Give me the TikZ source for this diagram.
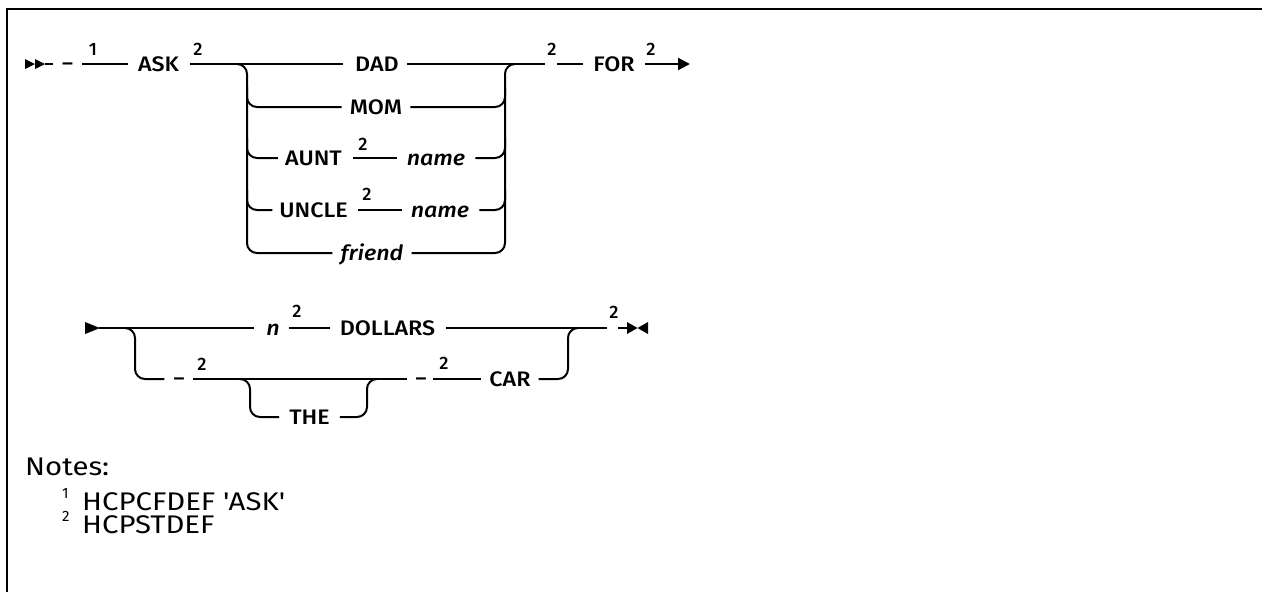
\documentclass[tikz,border=0pt]{standalone}
\usepackage{fontspec}
\setmainfont{Fira Sans}[BoldFont={Fira Sans Medium}, BoldItalicFont={Fira Sans Medium Italic}]
\newfontfamily\plainf{Fira Sans}
\usetikzlibrary{arrows.meta}
\newcommand{\sx}[1]{\scalebox{1.11}[1]{#1}}
\newcommand{\snx}[1]{\scalebox{1.15}[1]{#1}}
\begin{document}
\begin{tikzpicture}[x=1pt,y=-1pt,
  rr/.style={line width=2pt},
  kw/.style={font=\fontsize{21}{24}\selectfont\bfseries, inner sep=0pt, text height=14.5pt, text depth=0pt},
  var/.style={kw, font=\fontsize{21}{24}\selectfont\bfseries\itshape},
  dashtok/.style={kw, text height=13pt},
  fn/.style={font=\fontsize{18}{20}\selectfont\bfseries, inner sep=0pt, anchor=base},
  notetext/.style={font=\fontsize{25.5}{28}\selectfont\plainf, inner sep=0pt, anchor=base west, text height=17.5pt, text depth=0pt},
  notesup/.style={font=\fontsize{15}{17}\selectfont\plainf, inner sep=0pt, anchor=base west},
  rb/.style={rr, rounded corners=10pt}]
\useasboundingbox (0,0) rectangle (1262,592);
% frame
\draw[line width=2pt] (7,9) -- (7,592);
\draw[line width=2.6pt] (6,9) -- (1262,9);

% ---------- row 1 ----------
\coordinate (s0) at (45,64);
\fill (25,59) -- (35,64) -- (25,69) -- cycle;
\fill (35,59) -- (45,64) -- (35,69) -- cycle;
\node[dashtok] (d1) at (67.5,64) {–};
\draw[rr] (s0) -- ([xshift=-9]d1.west);
\node[fn] (f1) at (93,55) {1};
\node[kw] (ask) at (158.5,64) {\sx{ASK}};
\draw[rr] ([xshift=9]d1.east) -- ([xshift=-10]ask.west);
\node[fn] (f2) at (198,55) {2};

\node[kw] (dad) at (377,64) {\sx{DAD}};
\node[kw] (mom) at (376,107) {\sx{MOM}};
\node[kw, anchor=east] (aunt) at (342,158) {\sx{AUNT}};
\node[fn] (f5) at (363,150) {2};
\node[var] (name1) at (436,158) {\sx{name}};
\node[kw, anchor=east] (uncle) at (348,210) {\sx{UNCLE}};
\node[fn] (f6) at (367,200) {2};
\node[var] (name2) at (440,210) {\sx{name}};
\node[var] (friend) at (372,253) {\sx{friend}};

\draw[rr] ([xshift=11]ask.east) -- ([xshift=-12]dad.west);
% left bracket
\draw[rb] (237,64) -- (247,64) -- (247,253) -- ([xshift=-8]friend.west);
\draw[rb] (247,87) -- (247,107) -- ([xshift=-8]mom.west);
\draw[rb] (247,138) -- (247,158) -- ([xshift=-7]aunt.west);
\draw[rb] (247,190) -- (247,210) -- ([xshift=-7]uncle.west);
\draw[rr] ([xshift=11]aunt.east) -- ([xshift=-10]name1.west);
\draw[rr] ([xshift=10]uncle.east) -- ([xshift=-9]name2.west);
% right bracket
\draw[rb] ([xshift=8]friend.east) -- (505,253) -- (505,64) -- (515,64);
\draw[rb] ([xshift=8]mom.east) -- (505,107) -- (505,87);
\draw[rb] ([xshift=10]name1.east) -- (505,158) -- (505,138);
\draw[rb] ([xshift=10]name2.east) -- (505,210) -- (505,190);

\coordinate (c1) at (545,64);
\coordinate (c2) at (557,64);
\coordinate (c3) at (690,64);
\draw[rr] ([xshift=8]dad.east) -- (c1);
\node[fn] (f3) at (552,55) {2};
\node[kw] (for) at (614,64) {\sx{FOR}};
\draw[rr] (c2) -- ([xshift=-10]for.west);
\node[fn] (f4) at (651,55) {2};
\draw[rr, -{Triangle[length=12pt,width=12pt]}] ([xshift=10]for.east) -- (c3);

% ---------- row 2 ----------
\coordinate (r2s) at (99,328);
\fill (85,322) -- (100,328) -- (85,334) -- cycle;
\node[var] (n) at (273,328) {\sx{n}};
\draw[rr] (r2s) -- ([xshift=-12]n.west);
\node[fn] (f7) at (297,317) {2};
\node[kw] (dollars) at (387.5,328) {\sx{DOLLARS}};
\draw[rr] ([xshift=9]n.east) -- ([xshift=-10]dollars.west);
\coordinate (e1) at (607,328);
\coordinate (e2) at (618,328);
\coordinate (e3) at (628,328);
\draw[rr] ([xshift=11]dollars.east) -- (e1);
\node[fn] (f8) at (614,318) {2};
\draw[rr] (e2) -- (e3);
\fill (627,322) -- (637.5,328) -- (627,334) -- cycle;
\fill (648,322) -- (637.5,328) -- (648,334) -- cycle;

\node[dashtok] (d2) at (179,379) {–};
\node[fn] (f9) at (202,370) {2};
\node[dashtok] (d3) at (421,379) {–};
\node[fn] (f10) at (444,369) {2};
\node[kw] (car) at (510,379) {\sx{CAR}};
\node[kw] (the) at (309.5,417) {\sx{THE}};

\draw[rb] (125,328) -- (135,328) -- (135,379) -- ([xshift=-9]d2.west);
\draw[rr] ([xshift=8]d2.east) -- ([xshift=-8]d3.west);
\draw[rr] ([xshift=6]d3.east) -- ([xshift=-8]car.west);
\draw[rb] ([xshift=8]car.east) -- (568,379) -- (568,328) -- (578,328);
\draw[rb] (240,379) -- (250,379) -- (250,417) -- ([xshift=-10]the.west);
\draw[rb] ([xshift=10]the.east) -- (367,417) -- (367,379) -- (377,379);

% ---------- notes ----------
\node[notetext] (notes) at (25,475) {\snx{Notes:}};
\node[notesup] (s1) at (62,498) {1};
\node[notetext] (t1) at (82,510) {\snx{HCPCFDEF 'ASK'}};
\node[notesup] (s2) at (62,521) {2};
\node[notetext] (t2) at (82,533) {\snx{HCPSTDEF}};
\end{tikzpicture}
\end{document}
